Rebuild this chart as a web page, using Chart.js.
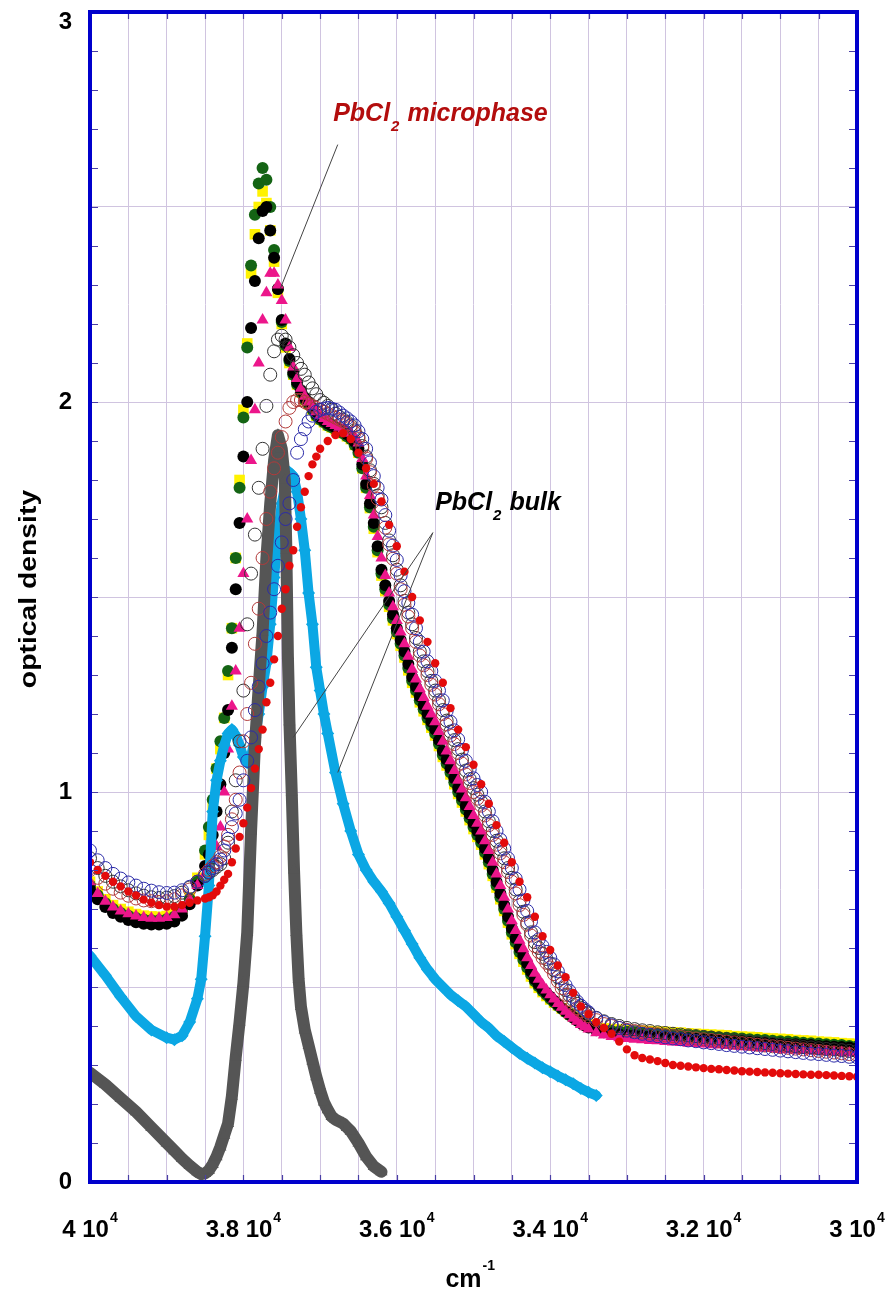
<!DOCTYPE html>
<html>
<head>
<meta charset="utf-8">
<title>PbCl2 optical density</title>
<script src="https://cdn.jsdelivr.net/npm/chart.js@4.4.1/dist/chart.umd.min.js"></script>
<style>
    html, body { margin: 0; padding: 0; background: #ffffff; }
    canvas { display: block; }
</style>
</head>
<body>
<canvas id="spectraChart" width="887" height="1294"></canvas>
<script>
// Wavenumber grid (cm-1) for the seven densely sampled microphase spectra
const wavenumbers = [
    40000, 39900, 39800, 39700, 39600, 39500, 39400, 39300, 39200, 39100, 39000, 38900, 38800,
    38700, 38600,
    38500, 38450, 38400, 38350, 38300, 38250, 38200, 38150, 38100, 38050, 38000, 37950, 37900, 37850, 37800, 37750,
    37700, 37650, 37600, 37550, 37500, 37450, 37400, 37350, 37300, 37250, 37200, 37150, 37100, 37050, 37000,
    36950, 36900, 36850, 36800, 36750, 36700, 36650, 36600, 36550, 36500,
    36450, 36400, 36350, 36300, 36250, 36200, 36150, 36100, 36050, 36000,
    35950, 35900, 35850, 35800, 35750, 35700, 35650, 35600, 35550, 35500,
    35450, 35400, 35350, 35300, 35250, 35200, 35150, 35100, 35050, 35000,
    34950, 34900, 34850, 34800, 34750, 34700, 34650, 34600, 34550, 34500,
    34450, 34400, 34350, 34300, 34250, 34200, 34150, 34100, 34050, 34000,
    33950, 33900, 33850, 33800, 33750, 33700, 33650, 33600, 33550, 33500,
    33400, 33300, 33200, 33100, 33000, 32900, 32800, 32700, 32600, 32500,
    32400, 32300, 32200, 32100, 32000, 31900, 31800, 31700, 31600, 31500,
    31400, 31300, 31200, 31100, 31000, 30900, 30800, 30700, 30600, 30500,
    30400, 30300, 30200, 30100, 30000
];

const yellowSquares = [
    0.77, 0.745, 0.725, 0.71, 0.70, 0.693, 0.687, 0.683, 0.681, 0.68, 0.682, 0.688, 0.70,
    0.73, 0.78,
    0.84, 0.89, 0.96, 1.06, 1.11, 1.19, 1.30, 1.42, 1.60, 1.80, 1.98, 2.15, 2.33, 2.43, 2.50, 2.54,
    2.51, 2.44, 2.36, 2.28, 2.20, 2.14, 2.10, 2.07, 2.045, 2.025, 2.005, 1.995, 1.98, 1.965, 1.955,
    1.948, 1.94, 1.935, 1.93, 1.925, 1.92, 1.912, 1.905, 1.89, 1.87,
    1.83, 1.78, 1.728, 1.675, 1.615, 1.555, 1.515, 1.475, 1.44, 1.405,
    1.375, 1.345, 1.312, 1.28, 1.255, 1.23, 1.207, 1.185, 1.165, 1.145,
    1.118, 1.09, 1.068, 1.045, 1.02, 0.995, 0.973, 0.95, 0.928, 0.905,
    0.885, 0.865, 0.84, 0.815, 0.785, 0.755, 0.725, 0.695, 0.665, 0.635,
    0.61, 0.585, 0.565, 0.545, 0.527, 0.51, 0.498, 0.487, 0.477, 0.468,
    0.46, 0.453, 0.445, 0.438, 0.431, 0.424, 0.418, 0.412, 0.407, 0.403,
    0.397, 0.394, 0.392, 0.391, 0.39, 0.389, 0.388, 0.387, 0.386, 0.385,
    0.384, 0.383, 0.381, 0.38, 0.379, 0.378, 0.377, 0.376, 0.374, 0.373,
    0.372, 0.371, 0.369, 0.368, 0.367, 0.366, 0.364, 0.363, 0.362, 0.36,
    0.359, 0.358, 0.356, 0.355, 0.353
];
const greenDots = [
    0.76, 0.735, 0.715, 0.70, 0.69, 0.683, 0.677, 0.673, 0.671, 0.671, 0.674, 0.68, 0.695,
    0.725, 0.77,
    0.85, 0.91, 0.98, 1.06, 1.13, 1.19, 1.31, 1.42, 1.60, 1.78, 1.96, 2.14, 2.35, 2.48, 2.56, 2.60,
    2.57, 2.50, 2.39, 2.29, 2.205, 2.145, 2.105, 2.07, 2.045, 2.025, 2.005, 1.995, 1.98, 1.965, 1.955,
    1.948, 1.94, 1.935, 1.93, 1.925, 1.92, 1.912, 1.905, 1.89, 1.87,
    1.83, 1.78, 1.73, 1.68, 1.62, 1.56, 1.52, 1.48, 1.445, 1.41,
    1.38, 1.35, 1.318, 1.285, 1.26, 1.235, 1.212, 1.19, 1.17, 1.15,
    1.123, 1.095, 1.073, 1.05, 1.025, 1.0, 0.978, 0.955, 0.933, 0.91,
    0.89, 0.87, 0.845, 0.82, 0.79, 0.76, 0.73, 0.70, 0.67, 0.64,
    0.615, 0.59, 0.57, 0.55, 0.532, 0.515, 0.502, 0.49, 0.48, 0.47,
    0.461, 0.452, 0.444, 0.436, 0.428, 0.421, 0.414, 0.408, 0.403, 0.398,
    0.392, 0.389, 0.387, 0.386, 0.385, 0.384, 0.383, 0.381, 0.38, 0.379,
    0.378, 0.377, 0.376, 0.375, 0.374, 0.373, 0.371, 0.37, 0.369, 0.368,
    0.366, 0.365, 0.364, 0.362, 0.361, 0.36, 0.359, 0.357, 0.356, 0.355,
    0.353, 0.352, 0.351, 0.349, 0.348
];
const blackDots = [
    0.75, 0.725, 0.705, 0.69, 0.68, 0.672, 0.666, 0.662, 0.66, 0.66, 0.662, 0.668, 0.683,
    0.712, 0.76,
    0.81, 0.84, 0.89, 0.95, 1.02, 1.10, 1.21, 1.37, 1.52, 1.69, 1.86, 2.00, 2.19, 2.31, 2.42, 2.49,
    2.50, 2.44, 2.37, 2.29, 2.21, 2.15, 2.11, 2.075, 2.05, 2.03, 2.01, 2.0, 1.985, 1.97, 1.96,
    1.952, 1.945, 1.94, 1.935, 1.93, 1.925, 1.918, 1.91, 1.898, 1.88,
    1.84, 1.79, 1.74, 1.69, 1.63, 1.57, 1.53, 1.49, 1.455, 1.42,
    1.39, 1.36, 1.328, 1.295, 1.27, 1.245, 1.222, 1.20, 1.18, 1.16,
    1.133, 1.105, 1.083, 1.06, 1.035, 1.01, 0.988, 0.965, 0.943, 0.92,
    0.90, 0.88, 0.855, 0.83, 0.80, 0.77, 0.74, 0.71, 0.68, 0.65,
    0.625, 0.60, 0.58, 0.56, 0.54, 0.52, 0.507, 0.495, 0.485, 0.475,
    0.465, 0.455, 0.446, 0.438, 0.43, 0.422, 0.414, 0.407, 0.401, 0.396,
    0.389, 0.384, 0.381, 0.379, 0.377, 0.376, 0.375, 0.374, 0.372, 0.371,
    0.37, 0.369, 0.368, 0.367, 0.366, 0.365, 0.364, 0.363, 0.362, 0.361,
    0.359, 0.358, 0.357, 0.356, 0.355, 0.354, 0.353, 0.352, 0.351, 0.349,
    0.348, 0.347, 0.346, 0.345, 0.343
];
const pinkTriangles = [
    0.77, 0.74, 0.72, 0.705, 0.695, 0.688, 0.682, 0.678, 0.676, 0.676, 0.678, 0.685, 0.70,
    0.725, 0.76,
    0.79, 0.81, 0.83, 0.86, 0.91, 1.00, 1.11, 1.22, 1.31, 1.42, 1.56, 1.70, 1.85, 1.98, 2.10, 2.21,
    2.28, 2.33, 2.33, 2.30, 2.26, 2.21, 2.14, 2.09, 2.06, 2.035, 2.015, 2.0, 1.99, 1.975, 1.965,
    1.958, 1.95, 1.945, 1.94, 1.935, 1.93, 1.925, 1.92, 1.91, 1.895,
    1.855, 1.81, 1.76, 1.71, 1.655, 1.60, 1.555, 1.51, 1.475, 1.44,
    1.41, 1.38, 1.348, 1.315, 1.29, 1.265, 1.242, 1.22, 1.20, 1.18,
    1.155, 1.13, 1.105, 1.08, 1.055, 1.03, 1.008, 0.985, 0.963, 0.94,
    0.92, 0.90, 0.875, 0.85, 0.82, 0.79, 0.76, 0.73, 0.70, 0.67,
    0.645, 0.62, 0.598, 0.575, 0.555, 0.535, 0.52, 0.505, 0.492, 0.48,
    0.469, 0.458, 0.448, 0.438, 0.429, 0.42, 0.412, 0.404, 0.398, 0.392,
    0.383, 0.377, 0.373, 0.37, 0.368, 0.366, 0.365, 0.363, 0.362, 0.36,
    0.359, 0.358, 0.356, 0.355, 0.354, 0.352, 0.351, 0.35, 0.348, 0.347,
    0.346, 0.344, 0.343, 0.342, 0.34, 0.339, 0.338, 0.337, 0.336, 0.335,
    0.334, 0.333, 0.332, 0.331, 0.33
];
const openBlackCircles = [
    0.83, 0.805, 0.785, 0.77, 0.758, 0.748, 0.74, 0.734, 0.73, 0.728, 0.729, 0.733, 0.742,
    0.755, 0.77,
    0.785, 0.793, 0.80, 0.808, 0.815, 0.83, 0.87, 0.95, 1.03, 1.13, 1.26, 1.43, 1.56, 1.66, 1.78, 1.88,
    1.99, 2.07, 2.13, 2.16, 2.17, 2.16, 2.14, 2.12, 2.10, 2.085, 2.07, 2.05, 2.035, 2.02, 2.005,
    1.998, 1.99, 1.98, 1.97, 1.962, 1.955, 1.948, 1.94, 1.927, 1.91,
    1.887, 1.86, 1.825, 1.79, 1.76, 1.73, 1.69, 1.645, 1.607, 1.57,
    1.53, 1.49, 1.46, 1.43, 1.395, 1.36, 1.335, 1.31, 1.285, 1.26,
    1.235, 1.21, 1.183, 1.155, 1.133, 1.11, 1.083, 1.055, 1.033, 1.01,
    0.993, 0.975, 0.95, 0.925, 0.90, 0.875, 0.853, 0.83, 0.805, 0.78,
    0.75, 0.72, 0.693, 0.665, 0.64, 0.615, 0.60, 0.585, 0.572, 0.56,
    0.543, 0.525, 0.508, 0.492, 0.479, 0.467, 0.457, 0.447, 0.439, 0.432,
    0.421, 0.412, 0.405, 0.40, 0.395, 0.392, 0.389, 0.387, 0.384, 0.382,
    0.38, 0.378, 0.376, 0.374, 0.372, 0.37, 0.368, 0.366, 0.364, 0.362,
    0.36, 0.358, 0.356, 0.354, 0.352, 0.35, 0.348, 0.346, 0.345, 0.343,
    0.341, 0.34, 0.338, 0.336, 0.335
];
const openBrownCircles = [
    0.80, 0.78, 0.765, 0.752, 0.742, 0.734, 0.727, 0.722, 0.72, 0.718, 0.72, 0.725, 0.735,
    0.75, 0.77,
    0.79, 0.80, 0.81, 0.82, 0.835, 0.86, 0.89, 0.93, 0.98, 1.05, 1.13, 1.20, 1.28, 1.38, 1.47, 1.60,
    1.70, 1.77, 1.83, 1.87, 1.91, 1.95, 1.985, 2.0, 2.005, 2.005, 2.0, 1.995, 1.99, 1.985, 1.98,
    1.975, 1.97, 1.965, 1.96, 1.955, 1.95, 1.943, 1.935, 1.922, 1.905,
    1.882, 1.855, 1.82, 1.785, 1.752, 1.72, 1.678, 1.635, 1.598, 1.56,
    1.52, 1.48, 1.45, 1.42, 1.385, 1.35, 1.325, 1.30, 1.275, 1.25,
    1.225, 1.20, 1.173, 1.145, 1.123, 1.10, 1.073, 1.045, 1.023, 1.0,
    0.983, 0.965, 0.94, 0.915, 0.89, 0.865, 0.843, 0.82, 0.795, 0.77,
    0.74, 0.71, 0.685, 0.66, 0.632, 0.605, 0.59, 0.575, 0.562, 0.55,
    0.533, 0.515, 0.497, 0.48, 0.467, 0.455, 0.446, 0.438, 0.431, 0.425,
    0.415, 0.405, 0.40, 0.395, 0.39, 0.387, 0.384, 0.381, 0.379, 0.376,
    0.374, 0.372, 0.37, 0.368, 0.366, 0.364, 0.362, 0.36, 0.358, 0.356,
    0.354, 0.352, 0.35, 0.348, 0.346, 0.344, 0.342, 0.34, 0.338, 0.336,
    0.334, 0.332, 0.33, 0.328, 0.326
];
const openBlueCircles = [
    0.85, 0.825, 0.805, 0.79, 0.778, 0.768, 0.76, 0.752, 0.747, 0.743, 0.741, 0.742, 0.748,
    0.757, 0.77,
    0.785, 0.795, 0.805, 0.815, 0.827, 0.85, 0.88, 0.91, 0.945, 0.98, 1.03, 1.08, 1.14, 1.21, 1.27, 1.33,
    1.40, 1.46, 1.52, 1.58, 1.64, 1.70, 1.74, 1.80, 1.87, 1.905, 1.93, 1.95, 1.965, 1.975, 1.98,
    1.983, 1.985, 1.983, 1.98, 1.973, 1.965, 1.958, 1.95, 1.94, 1.925,
    1.905, 1.88, 1.845, 1.81, 1.78, 1.75, 1.71, 1.67, 1.632, 1.595,
    1.555, 1.515, 1.485, 1.455, 1.42, 1.385, 1.36, 1.335, 1.31, 1.285,
    1.26, 1.235, 1.208, 1.18, 1.158, 1.135, 1.108, 1.08, 1.058, 1.035,
    1.018, 1.0, 0.975, 0.95, 0.925, 0.90, 0.878, 0.855, 0.83, 0.805,
    0.778, 0.75, 0.722, 0.695, 0.668, 0.64, 0.622, 0.605, 0.59, 0.575,
    0.558, 0.54, 0.522, 0.505, 0.49, 0.475, 0.463, 0.452, 0.443, 0.435,
    0.42, 0.41, 0.402, 0.395, 0.388, 0.384, 0.38, 0.377, 0.374, 0.371,
    0.368, 0.366, 0.363, 0.361, 0.358, 0.356, 0.354, 0.351, 0.349, 0.347,
    0.345, 0.343, 0.341, 0.339, 0.337, 0.335, 0.333, 0.331, 0.329, 0.328,
    0.326, 0.324, 0.323, 0.321, 0.32
];

// The red spectrum is sampled more coarsely
const redWavenumbers = [
    40000, 39900, 39800, 39700, 39600, 39500, 39400, 39300, 39200, 39100, 39000, 38900, 38800,
    38700, 38600,
    38500, 38450, 38400, 38350, 38300, 38250, 38200, 38150, 38100, 38050, 38000, 37950, 37900, 37850, 37800, 37750,
    37700, 37650, 37600, 37550, 37500, 37450, 37400, 37350, 37300, 37250, 37200, 37150, 37100, 37050, 37000,
    36900, 36800, 36700, 36600, 36500, 36400, 36300, 36200, 36100, 36000,
    35900, 35800, 35700, 35600, 35500, 35400, 35300, 35200, 35100, 35000,
    34900, 34800, 34700, 34600, 34500, 34400, 34300, 34200, 34100, 34000,
    33900, 33800, 33700, 33600, 33500, 33400, 33300, 33200, 33100, 33000,
    32900, 32800, 32700, 32600, 32500, 32400, 32300, 32200, 32100, 32000,
    31900, 31800, 31700, 31600, 31500, 31400, 31300, 31200, 31100, 31000,
    30900, 30800, 30700, 30600, 30500, 30400, 30300, 30200, 30100, 30000
];
const redDots = [
    0.82, 0.80, 0.785, 0.77, 0.758, 0.745, 0.735, 0.724, 0.716, 0.71, 0.706, 0.706, 0.71,
    0.716, 0.722,
    0.727, 0.73, 0.735, 0.745, 0.76, 0.775, 0.79, 0.82, 0.855, 0.885, 0.92, 0.96, 1.01, 1.06, 1.11, 1.16,
    1.23, 1.28, 1.34, 1.40, 1.47, 1.52, 1.58, 1.62, 1.68, 1.73, 1.77, 1.81, 1.84, 1.86, 1.88,
    1.90, 1.915, 1.92, 1.905, 1.87, 1.83, 1.79, 1.745, 1.685, 1.63,
    1.565, 1.50, 1.44, 1.385, 1.33, 1.28, 1.215, 1.16, 1.115, 1.07,
    1.02, 0.97, 0.915, 0.87, 0.82, 0.77, 0.73, 0.68, 0.63, 0.595,
    0.555, 0.525, 0.485, 0.45, 0.43, 0.41, 0.395, 0.38, 0.36, 0.34,
    0.325, 0.318, 0.314, 0.31, 0.305, 0.30, 0.298, 0.296, 0.294, 0.292,
    0.29, 0.289, 0.287, 0.286, 0.284, 0.283, 0.282, 0.281, 0.28, 0.279,
    0.278, 0.277, 0.276, 0.275, 0.275, 0.274, 0.273, 0.272, 0.271, 0.27
];

// Bulk PbCl2 spectra
const bulkGrayX = [
    40000, 39800, 39600, 39400, 39200, 39000, 38900, 38800, 38700, 38600, 38550, 38500, 38450, 38400,
    38350, 38300, 38250, 38200, 38150, 38100, 38050, 38000, 37950, 37900, 37850, 37800, 37750, 37700,
    37650, 37600, 37550, 37500, 37460, 37440, 37420, 37400, 37370, 37340, 37310, 37280, 37250, 37200,
    37150, 37100, 37050, 37000, 36950, 36900, 36850, 36800, 36700, 36650, 36600, 36500, 36400, 36300, 36200
];
const bulkGrayY = [
    0.28, 0.25, 0.215, 0.18, 0.14, 0.10, 0.08, 0.06, 0.042, 0.026, 0.02, 0.022, 0.03, 0.045,
    0.065, 0.09, 0.12, 0.15, 0.22, 0.32, 0.41, 0.51, 0.64, 0.90, 1.12, 1.27, 1.41, 1.60,
    1.74, 1.85, 1.915, 1.88, 1.80, 1.62, 1.35, 1.18, 1.00, 0.80, 0.64, 0.52, 0.45, 0.39,
    0.35, 0.31, 0.27, 0.235, 0.205, 0.185, 0.168, 0.16, 0.15, 0.14, 0.13, 0.10, 0.065, 0.04, 0.026
];
const bulkCyanX = [
    40000, 39800, 39600, 39400, 39200, 39000, 38900, 38800, 38700, 38600,
    38550, 38500, 38450, 38400, 38350, 38300, 38250, 38200, 38150, 38100, 38050, 38000, 37950, 37900,
    37850, 37800, 37750, 37700, 37650, 37600, 37550, 37500, 37450, 37400, 37350, 37300, 37250, 37200,
    37150, 37100, 37050, 37000, 36950, 36900,
    36800, 36700, 36600, 36500, 36400, 36300, 36200, 36100, 36000, 35900, 35800, 35700, 35600, 35500,
    35400, 35300, 35200, 35100, 35000, 34900, 34800, 34700, 34600, 34500, 34400, 34300, 34200, 34100,
    34000, 33900, 33800, 33700, 33600, 33500, 33400
];
const bulkCyanY = [
    0.58, 0.53, 0.475, 0.425, 0.39, 0.37, 0.365, 0.375, 0.41, 0.47,
    0.52, 0.63, 0.76, 0.95, 1.03, 1.08, 1.12, 1.15, 1.16, 1.145, 1.12, 1.09, 1.075, 1.09,
    1.14, 1.20, 1.27, 1.33, 1.43, 1.55, 1.66, 1.74, 1.79, 1.82, 1.81, 1.77, 1.70, 1.62,
    1.51, 1.43, 1.32, 1.26, 1.20, 1.15,
    1.05, 0.97, 0.90, 0.84, 0.80, 0.77, 0.745, 0.715, 0.68, 0.645, 0.61, 0.575, 0.545, 0.52,
    0.50, 0.48, 0.465, 0.45, 0.43, 0.41, 0.395, 0.375, 0.36, 0.345, 0.33, 0.317, 0.305, 0.293,
    0.283, 0.272, 0.262, 0.252, 0.24, 0.23, 0.222
];

// Axis labels
const xTickValues = [40000, 38000, 36000, 34000, 32000, 30000];
const xTickMantissas = ['4', '3.8', '3.6', '3.4', '3.2', '3'];
const yTickValues = [0, 1, 2, 3];

const FONT = "'Liberation Sans', Arial, Helvetica, sans-serif";

function pairs(xs, ys) {
    const n = Math.min(xs.length, ys.length);
    const out = [];
    for (let i = 0; i < n; i++) out.push({ x: xs[i], y: ys[i] });
    return out;
}

function markerSet(label, xs, ys, style) {
    return Object.assign({
        label: label,
        data: pairs(xs, ys),
        showLine: false,
        pointBorderWidth: 0
    }, style);
}

// "PbCl" + subscript 2 + rest, left aligned on baseline (x, y)
function drawFormula(ctx, x, y, rest, color) {
    ctx.fillStyle = color;
    ctx.textAlign = 'left';
    ctx.textBaseline = 'alphabetic';
    ctx.font = `italic bold 25px ${FONT}`;
    ctx.fillText('PbCl', x, y);
    const w1 = ctx.measureText('PbCl').width;
    ctx.font = `italic bold 15px ${FONT}`;
    ctx.fillText('2', x + w1 + 1, y + 10);
    const w2 = ctx.measureText('2').width;
    ctx.font = `italic bold 25px ${FONT}`;
    ctx.fillText(rest, x + w1 + w2 + 9, y);
}

function drawLeader(ctx, xs, ys, from, to) {
    ctx.beginPath();
    ctx.moveTo(xs.getPixelForValue(from[0]), ys.getPixelForValue(from[1]));
    ctx.lineTo(xs.getPixelForValue(to[0]), ys.getPixelForValue(to[1]));
    ctx.stroke();
}

// Frame, minor ticks, tick labels, axis titles and the two notes
const frameAndNotes = {
    id: 'frameAndNotes',
    afterDraw(chart) {
        const ctx = chart.ctx;
        const xs = chart.scales.x;
        const ys = chart.scales.y;
        const a = chart.chartArea;
        ctx.save();

        // minor tick marks inside the frame
        ctx.strokeStyle = '#4a3fa6';
        ctx.lineWidth = 1.2;
        ctx.beginPath();
        for (let i = 0; i <= 30; i++) {
            const py = Math.round(ys.getPixelForValue(i / 10)) + 0.5;
            ctx.moveTo(a.left, py); ctx.lineTo(a.left + 8, py);
            ctx.moveTo(a.right - 8, py); ctx.lineTo(a.right, py);
        }
        for (let v = 30000; v <= 40000; v += 500) {
            const px = Math.round(xs.getPixelForValue(v)) + 0.5;
            ctx.moveTo(px, a.bottom); ctx.lineTo(px, a.bottom - 7);
            ctx.moveTo(px, a.top); ctx.lineTo(px, a.top + 7);
        }
        ctx.stroke();

        // blue frame
        ctx.strokeStyle = '#0000cc';
        ctx.lineWidth = 4;
        ctx.strokeRect(a.left, a.top, a.right - a.left, a.bottom - a.top);

        // y tick labels
        ctx.fillStyle = '#000';
        ctx.font = `bold 24px ${FONT}`;
        ctx.textAlign = 'right';
        ctx.textBaseline = 'middle';
        yTickValues.forEach(v => {
            let py = ys.getPixelForValue(v);
            py = Math.min(Math.max(py, a.top + 10), a.bottom + 8);
            ctx.fillText(String(v), 72, py);
        });

        // x tick labels, "m 10^4"
        ctx.textBaseline = 'alphabetic';
        ctx.textAlign = 'left';
        xTickValues.forEach((v, i) => {
            const cx = xs.getPixelForValue(v);
            const main = xTickMantissas[i] + ' 10';
            ctx.font = `bold 24px ${FONT}`;
            const wMain = ctx.measureText(main).width;
            ctx.font = `bold 14px ${FONT}`;
            const wExp = ctx.measureText('4').width;
            const x0 = cx - (wMain + wExp + 1) / 2;
            ctx.font = `bold 24px ${FONT}`;
            ctx.fillText(main, x0, 1237);
            ctx.font = `bold 14px ${FONT}`;
            ctx.fillText('4', x0 + wMain + 1, 1222);
        });

        // x title cm^-1
        ctx.font = `bold 25px ${FONT}`;
        const wCm = ctx.measureText('cm').width;
        const cmX = (a.left + a.right) / 2 - 10 - wCm / 2;
        ctx.fillText('cm', cmX, 1287);
        ctx.font = `bold 14px ${FONT}`;
        ctx.fillText('-1', cmX + wCm + 1, 1270);

        // y title, stretched along its length like the original
        ctx.save();
        ctx.translate(36, (a.top + a.bottom) / 2 - 8);
        ctx.rotate(-Math.PI / 2);
        ctx.scale(1.18, 1);
        ctx.textAlign = 'center';
        ctx.font = `bold 24px ${FONT}`;
        ctx.fillText('optical density', 0, 0);
        ctx.restore();

        // notes with leader lines
        ctx.strokeStyle = '#444';
        ctx.lineWidth = 1;
        drawLeader(ctx, xs, ys, [36770, 2.66], [37520, 2.29]);
        drawLeader(ctx, xs, ys, [35530, 1.665], [37350, 1.14]);
        drawLeader(ctx, xs, ys, [35530, 1.665], [36770, 1.05]);
        drawFormula(ctx, xs.getPixelForValue(36830), ys.getPixelForValue(2.72), 'microphase', '#b30d0d');
        drawFormula(ctx, xs.getPixelForValue(35500), ys.getPixelForValue(1.723), 'bulk', '#000');

        ctx.restore();
    }
};

const gridColor = '#d0c4e0';
const openCircle = color => ({
    pointBackgroundColor: 'rgba(0,0,0,0)', pointBorderColor: color, pointBorderWidth: 1, pointRadius: 6.5
});

const spectraChart = new Chart(document.getElementById('spectraChart').getContext('2d'), {
    type: 'scatter',
    data: {
        datasets: [
            markerSet('red', redWavenumbers, redDots, { pointBackgroundColor: '#e30b0b', pointRadius: 4.2 }),
            markerSet('open blue', wavenumbers, openBlueCircles, openCircle('#2b2ba8')),
            markerSet('open brown', wavenumbers, openBrownCircles, openCircle('#b23a3a')),
            markerSet('open black', wavenumbers, openBlackCircles, openCircle('#333333')),
            {
                label: 'bulk gray',
                data: pairs(bulkGrayX, bulkGrayY),
                showLine: true,
                borderColor: '#555555',
                borderWidth: 12,
                borderJoinStyle: 'round',
                borderCapStyle: 'round',
                pointStyle: 'triangle',
                pointRadius: 7,
                pointBackgroundColor: '#555555',
                pointBorderWidth: 0
            },
            {
                label: 'bulk cyan',
                data: pairs(bulkCyanX, bulkCyanY),
                showLine: true,
                borderColor: '#0ba7e4',
                borderWidth: 10,
                borderJoinStyle: 'round',
                borderCapStyle: 'round',
                pointStyle: 'rectRot',
                pointRadius: 6.5,
                pointBackgroundColor: '#0ba7e4',
                pointBorderWidth: 0
            },
            markerSet('pink', wavenumbers, pinkTriangles, { pointStyle: 'triangle', pointBackgroundColor: '#ec168b', pointRadius: 7 }),
            markerSet('black', wavenumbers, blackDots, { pointBackgroundColor: '#000000', pointRadius: 6 }),
            markerSet('green', wavenumbers, greenDots, { pointBackgroundColor: '#146414', pointRadius: 6 }),
            markerSet('yellow', wavenumbers, yellowSquares, { pointStyle: 'rect', pointBackgroundColor: '#fff200', pointRadius: 7.5 })
        ]
    },
    options: {
        responsive: false,
        animation: false,
        events: [],
        layout: {
            padding: { left: 90, right: 30, top: 12, bottom: 112 }
        },
        plugins: {
            legend: { display: false },
            tooltip: { enabled: false }
        },
        scales: {
            x: {
                type: 'linear',
                reverse: true,
                min: 30000,
                max: 40000,
                ticks: { display: false, stepSize: 500 },
                grid: { color: gridColor, lineWidth: 1, drawTicks: false },
                border: { display: false }
            },
            y: {
                type: 'linear',
                min: 0,
                max: 3,
                ticks: { display: false, stepSize: 0.5 },
                grid: { color: gridColor, lineWidth: 1, drawTicks: false },
                border: { display: false }
            }
        }
    },
    plugins: [frameAndNotes]
});
</script>
</body>
</html>
